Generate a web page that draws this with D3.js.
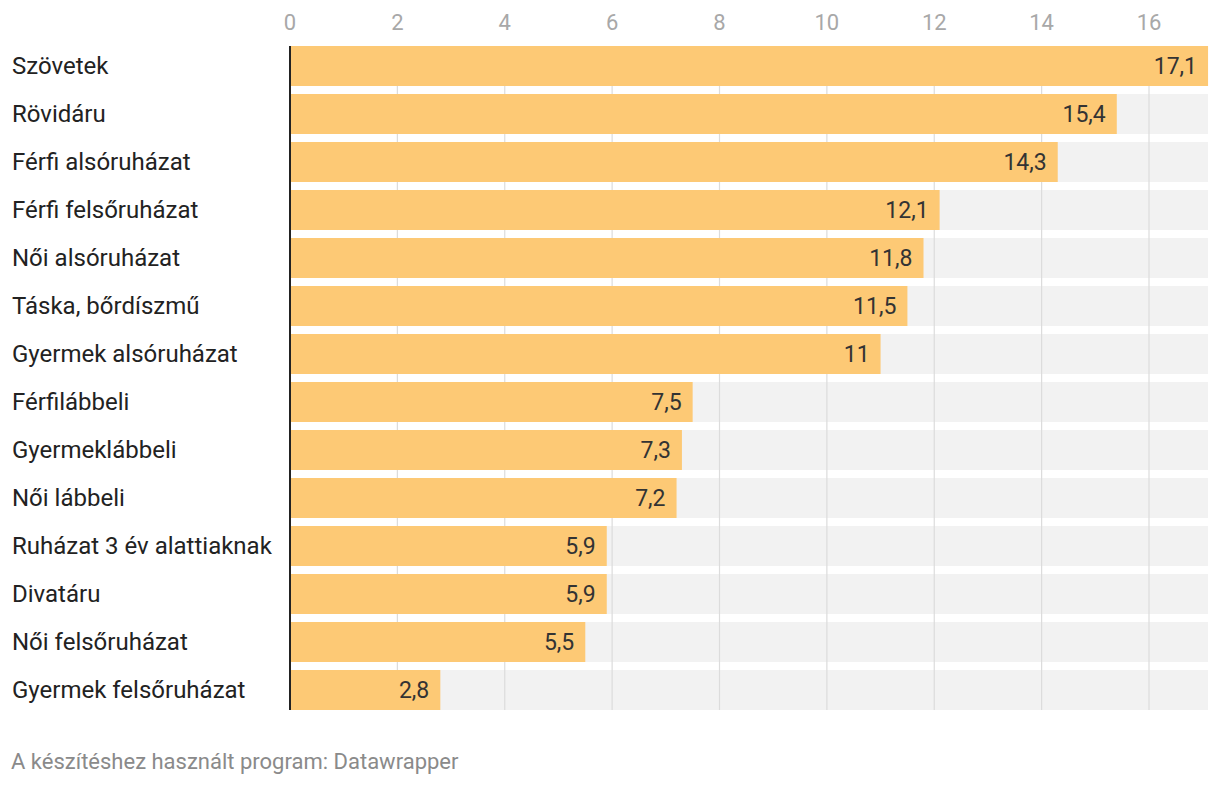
<!DOCTYPE html>
<html><head><meta charset="utf-8">
<script src="https://cdn.jsdelivr.net/npm/d3@7"></script>
<style>body{margin:0;background:#fff;font-family:Roboto,sans-serif}</style>
</head><body><svg id="c" width="1220" height="786"></svg>
<script>
const categories = ["Szövetek","Rövidáru","Férfi alsóruházat","Férfi felsőruházat","Női alsóruházat","Táska, bőrdíszmű","Gyermek alsóruházat","Férfilábbeli","Gyermeklábbeli","Női lábbeli","Ruházat 3 év alattiaknak","Divatáru","Női felsőruházat","Gyermek felsőruházat"];
const values = [17.1,15.4,14.3,12.1,11.8,11.5,11,7.5,7.3,7.2,5.9,5.9,5.5,2.8];
const ticks = [0,2,4,6,8,10,12,14,16];
const footer = "A készítéshez használt program: Datawrapper";

const svg = d3.select("#c");
const x = d3.scaleLinear().domain([0,16]).range([290,1149]);
const xMax = x(d3.max(values));
const y = d3.scaleBand().domain(categories).range([46,710]).paddingInner(1/6).paddingOuter(0);
const yEnd = y(categories[categories.length-1]) + y.bandwidth();
const fmt = v => String(v).replace(".", ",");

// background bars
svg.append("g").selectAll("rect").data(categories).join("rect")
  .attr("x", x(0)).attr("y", d=>y(d)).attr("width", xMax - x(0)).attr("height", y.bandwidth())
  .attr("fill", "#f2f2f2");
// grid lines
svg.append("g").selectAll("line").data(ticks.filter(t=>t>0)).join("line")
  .attr("x1", d=>x(d)).attr("x2", d=>x(d)).attr("y1", 46).attr("y2", yEnd)
  .attr("stroke", "#dcdcdc").attr("stroke-width", 1.2);
// tick labels
svg.append("g").selectAll("text").data(ticks).join("text")
  .attr("x", d=>x(d)).attr("y", 30).attr("text-anchor","middle")
  .attr("font-size", 22).attr("fill", "#a8a8a8").text(d=>d);
// bars
svg.append("g").selectAll("rect").data(values).join("rect")
  .attr("x", x(0)).attr("y", (d,i)=>y(categories[i])).attr("width", d=>x(d)-x(0)).attr("height", y.bandwidth())
  .attr("fill", "#fdc975");
// value labels
svg.append("g").selectAll("text").data(values).join("text")
  .attr("x", d=>x(d)-11).attr("y", (d,i)=>y(categories[i])+y.bandwidth()/2+8)
  .attr("text-anchor","end").attr("font-size", 23).attr("fill", "#333").text(fmt);
// category labels
svg.append("g").selectAll("text").data(categories).join("text")
  .attr("x", 12).attr("y", d=>y(d)+y.bandwidth()/2+8)
  .attr("font-size", 24).attr("fill", "#222").text(d=>d);
// baseline
svg.append("line").attr("x1", x(0)).attr("x2", x(0)).attr("y1", 46).attr("y2", yEnd)
  .attr("stroke", "#222").attr("stroke-width", 2);
// footer
svg.append("text").attr("x", 11).attr("y", 769).attr("font-size", 22).attr("fill", "#8a8a8a").text(footer);
</script></body></html>
